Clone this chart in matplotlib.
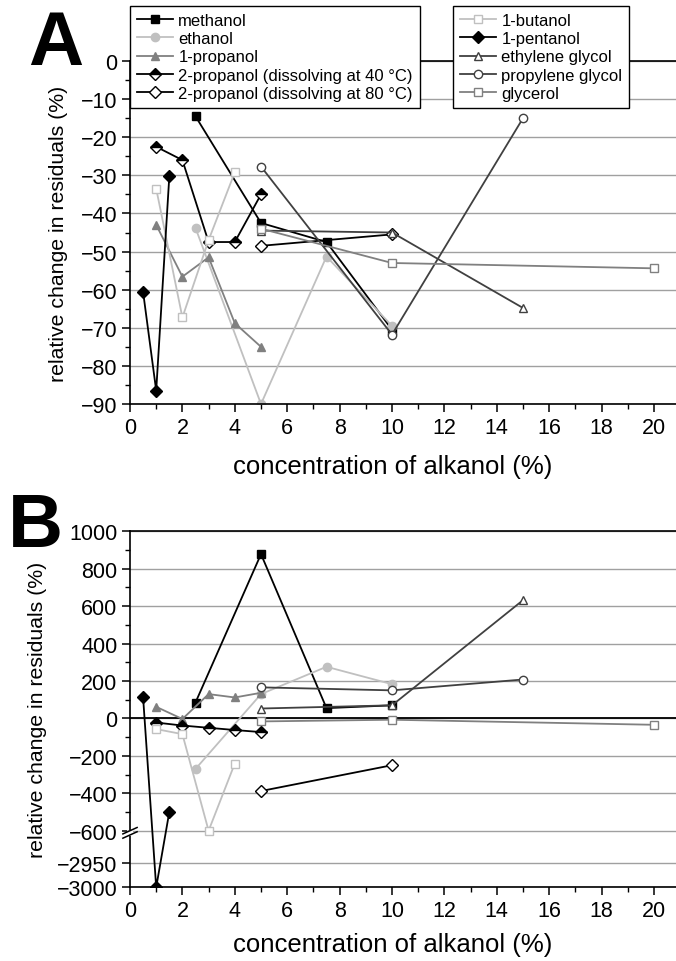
import numpy as np
import matplotlib
matplotlib.use("Agg")
import matplotlib.pyplot as plt
from matplotlib.ticker import MultipleLocator, FixedLocator, FixedFormatter

plt.rcParams['font.family'] = ['Liberation Sans', 'DejaVu Sans']

# series names and styles
names = ["methanol", "ethanol", "1-propanol", "2-propanol (dissolving at 40 °C)",
         "2-propanol (dissolving at 80 °C)", "1-butanol", "1-pentanol",
         "ethylene glycol", "propylene glycol", "glycerol"]

# concentration (%) for each series
x_meoh = [2.5, 5, 7.5, 10]
x_etoh = [2.5, 5, 7.5, 10]
x_prop1 = [1, 2, 3, 4, 5]
x_prop2_40 = [1, 2, 3, 4, 5]
x_prop2_80 = [5, 10]
x_buoh = [1, 2, 3, 4]
x_pent = [0.5, 1, 1.5]
x_eg = [5, 10, 15]
x_pg = [5, 10, 15]
x_gly = [5, 10, 20]

# panel A: relative change in residuals (%)
a_meoh = [-14.5, -42.5, -47.5, -70.5]
a_etoh = [-43.8, -90, -51.3, -69.5]
a_prop1 = [-43, -56.6, -51.5, -68.8, -75]
a_prop2_40 = [-22.5, -26, -47.5, -47.5, -35]
a_prop2_80 = [-48.5, -45.5]
a_buoh = [-33.5, -67.3, -47, -29.2]
a_pent = [-60.6, -86.5, -30.3]
a_eg = [-44.5, -45, -64.8]
a_pg = [-27.7, -71.8, -15]
a_gly = [-44, -53, -54.4]

# panel B: relative change in residuals (%)
b_meoh = [85, 878, 55, 70]
b_etoh = [-270, 130, 276, 183]
b_prop1 = [62, -3, 130, 112, 137]
b_prop2_40 = [-22, -38, -50, -62, -73]
b_prop2_80 = [-388, -250]
b_buoh = [-57, -84, -600, -241]
b_pent = [112, -3000, -500]
b_eg = [53, 70, 632]
b_pg = [166, 150, 208]
b_gly = [-16, -7, -34]

xs = [x_meoh, x_etoh, x_prop1, x_prop2_40, x_prop2_80, x_buoh, x_pent, x_eg, x_pg, x_gly]
ya = [a_meoh, a_etoh, a_prop1, a_prop2_40, a_prop2_80, a_buoh, a_pent, a_eg, a_pg, a_gly]
yb = [b_meoh, b_etoh, b_prop1, b_prop2_40, b_prop2_80, b_buoh, b_pent, b_eg, b_pg, b_gly]

light = "#c0c0c0"
mid = "#808080"
dark = "#404040"
styles = [
    dict(color="black", marker="s", mfc="black"),
    dict(color=light, marker="o", mfc=light),
    dict(color=mid, marker="^", mfc=mid),
    dict(color="black", marker="D", mfc="black", fillstyle="top", markerfacecoloralt="white"),
    dict(color="black", marker="D", mfc="white"),
    dict(color=light, marker="s", mfc="white"),
    dict(color="black", marker="D", mfc="black"),
    dict(color=dark, marker="^", mfc="white"),
    dict(color=dark, marker="o", mfc="white"),
    dict(color=mid, marker="s", mfc="white"),
]

W, H = 676, 962
fig = plt.figure(figsize=(W / 100, H / 100), dpi=100)

x0 = 130
xmax = (W - x0) / 26.2
axA = fig.add_axes([x0 / W, 1 - 405 / H, (W - x0) / W, (405 - 62) / H])
axB = fig.add_axes([x0 / W, 1 - 888.3 / H, (W - x0) / W, (888.3 - 532.3) / H])

tick_fs = 15.5
xlabel_fs = 18.5
ylabel_fs = 15.3


def style_axis(ax):
    ax.set_xlim(0, xmax)
    ax.xaxis.set_major_locator(MultipleLocator(2))
    ax.xaxis.set_minor_locator(MultipleLocator(1))
    ax.spines['right'].set_visible(False)
    for s in ['left', 'bottom', 'top']:
        ax.spines[s].set_linewidth(1.2)
    ax.tick_params(which='major', direction='out', length=6, width=1.1, labelsize=tick_fs, pad=3)
    ax.tick_params(which='minor', direction='out', length=3.5, width=1.0)
    ax.tick_params(axis='x', which='both', top=False)
    ax.grid(axis='y', which='major', color="#a0a0a0", lw=1)
    ax.set_axisbelow(True)


# ---- panel A ----
style_axis(axA)
axA.set_ylim(-90, 0)
axA.yaxis.set_major_locator(MultipleLocator(10))
axA.yaxis.set_minor_locator(MultipleLocator(5))
handles = []
for x, y, nm, st in zip(xs, ya, names, styles):
    h, = axA.plot(x, y, lw=1.3, ms=6, mew=1.0, mec=st["color"], label=nm, **st)
    handles.append(h)

# ---- panel B with broken y axis ----
k = 2.63
lo_top = -2885


def fwd(y):
    y = np.asarray(y, dtype=float)
    return np.where(y >= -600, y, np.where(y <= lo_top, -600 + (y - lo_top) * k, -600))


def inv(v):
    v = np.asarray(v, dtype=float)
    return np.where(v >= -600, v, lo_top + (v + 600) / k)


axB.set_yscale('function', functions=(fwd, inv))
style_axis(axB)
axB.set_ylim(-3000, 1000)
major_b = [-3000, -2950] + list(range(-600, 1001, 200))
minor_b = list(range(-500, 1000, 200))
axB.yaxis.set_major_locator(FixedLocator(major_b))
axB.yaxis.set_major_formatter(FixedFormatter([str(v).replace("-", "\u2212") for v in major_b]))
axB.yaxis.set_minor_locator(FixedLocator(minor_b))
axB.axhline(0, color="black", lw=1.3, zorder=1.5)
for x, y, nm, st in zip(xs, yb, names, styles):
    axB.plot(x, y, lw=1.3, ms=6, mew=1.0, mec=st["color"], **st)

# break marks on the left spine
yb_ax = (fwd(-600) - fwd(-3000)) / (fwd(1000) - fwd(-3000))
axB.plot([-0.006, 0.006], [yb_ax - 0.006, yb_ax - 0.006], transform=axB.transAxes,
         color="white", lw=4, clip_on=False, zorder=5, solid_capstyle='butt')
for dy in (-0.012, 0.0):
    axB.plot([-0.013, 0.013], [yb_ax + dy - 0.009, yb_ax + dy + 0.009],
             transform=axB.transAxes, color="black", lw=1.1, clip_on=False, zorder=6)

for ax in (axA, axB):
    ax.set_xlabel("concentration of alkanol (%)", fontsize=xlabel_fs, va="center")
    ax.set_ylabel("relative change in residuals (%)", fontsize=ylabel_fs)
axA.yaxis.set_label_coords(-62 / 546, 0.5)
axB.yaxis.set_label_coords(-82.5 / 546, 0.5)
axA.xaxis.set_label_coords(0.482, -(467 - 405) / 343)
axB.xaxis.set_label_coords(0.482, -(945 - 888.3) / 356)

# legends
legkw = dict(fontsize=12, frameon=True, fancybox=False, edgecolor="black",
             framealpha=1, handlelength=2.15, handletextpad=0.35, labelspacing=0.2,
             borderpad=0.4, borderaxespad=0)
leg1 = fig.legend(handles=handles[:5], loc="upper left",
                  bbox_to_anchor=(130 / W, 1 - 7 / H), **legkw)
leg2 = fig.legend(handles=handles[5:], loc="upper left",
                  bbox_to_anchor=(453 / W, 1 - 7 / H), **legkw)
for lg in (leg1, leg2):
    lg.get_frame().set_linewidth(1.0)

fig.text(28 / W, 1 - 65 / H, "A", fontsize=55, fontweight="bold", va="baseline")
fig.text(8 / W, 1 - 547 / H, "B", fontsize=55, fontweight="bold", va="baseline")

fig.savefig("out.png", dpi=100)
